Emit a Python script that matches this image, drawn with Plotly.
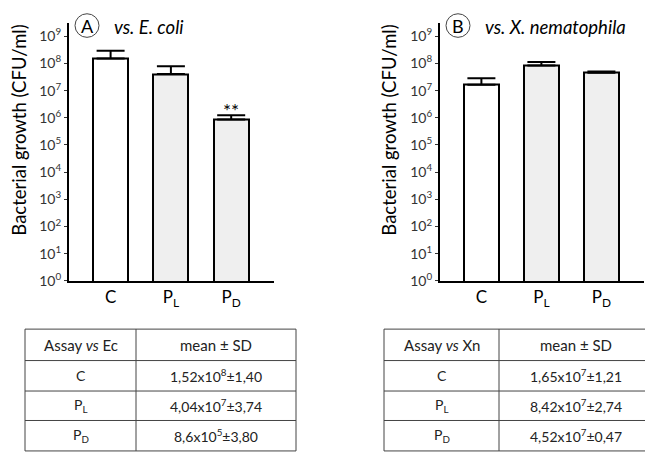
import math
import plotly.graph_objects as go

# ---- data ----
categories = ["C", "P<sub>L</sub>", "P<sub>D</sub>"]
ecoli_mean = [1.52e8, 4.04e7, 8.6e5]
ecoli_sd = [1.40e8, 3.74e7, 3.80e5]
xn_mean = [1.65e7, 8.42e7, 4.52e7]
xn_sd = [1.21e7, 2.74e7, 0.47e7]
bar_fill = ["white", "#efefef", "#efefef"]
y_tickvals = [10 ** k for k in range(10)]
y_ticktext = ["10<sup>%d</sup>" % k for k in range(10)]

W, H = 645, 456
FONT = "Lato"


def px(x):
    return x / W


def py(y):
    return 1 - y / H


def sci_label(mean, sd):
    exp = 0
    m = mean
    while m >= 10:
        m /= 10
        exp += 1
    s = sd / 10 ** exp
    return ("%.3g" % m).replace(".", ",") + "x10<sup>%d</sup>" % exp + "±" + ("%.2f" % s).replace(".", ",")


def note(x, y, text, size, color="black", **kw):
    d = dict(x=px(x), y=py(y), xref="paper", yref="paper", text=text, showarrow=False,
             xanchor="center", yanchor="middle",
             font=dict(family=FONT, size=size, color=color))
    d.update(kw)
    return d


fig = go.Figure()

panels = [
    dict(mean=ecoli_mean, sd=ecoli_sd, xa="x", ya="y"),
    dict(mean=xn_mean, sd=xn_sd, xa="x2", ya="y2"),
]
for p in panels:
    fig.add_trace(go.Bar(
        x=[0, 1, 2], y=p["mean"], width=0.58,
        marker=dict(color=bar_fill, line=dict(color="black", width=2)),
        error_y=dict(type="data", symmetric=False, array=p["sd"],
                     arrayminus=[0, 0, 0], color="black", thickness=2, width=14),
        xaxis=p["xa"], yaxis=p["ya"], showlegend=False,
    ))

ydom = [py(286), py(23)]
xaxis_common = dict(range=[-0.69, 2.71], tickvals=[0, 1, 2], ticktext=categories,
                    showline=True, linecolor="black", linewidth=2, ticks="",
                    showgrid=False, zeroline=False,
                    tickfont=dict(family=FONT, size=17, color="black"))
yaxis_common = dict(type="log", range=[0, 9.5], tickvals=y_tickvals, ticktext=y_ticktext,
                    showline=True, linecolor="black", linewidth=2,
                    ticks="outside", ticklen=3, tickwidth=1, tickcolor="#333",
                    showgrid=False, zeroline=False,
                    tickfont=dict(family=FONT, size=14, color="#333"), domain=ydom)

fig.update_layout(
    width=W, height=H, margin=dict(l=0, r=0, t=0, b=0),
    paper_bgcolor="white", plot_bgcolor="white", bargap=0,
    font=dict(family=FONT, color="black"),
    xaxis=dict(domain=[px(69), px(274)], anchor="y", **xaxis_common),
    yaxis=dict(anchor="x", **yaxis_common),
    xaxis2=dict(domain=[px(440), px(644)], anchor="y2", **xaxis_common),
    yaxis2=dict(anchor="x2", **yaxis_common),
)

shapes = []
annotations = []

# axis titles
for xc in (19, 389):
    annotations.append(note(xc, 133, "Bacterial growth (CFU/ml)", 18.5, textangle=-90))

# panel markers and titles
for cx, letter, label, lx in [(87, "A", "vs. E. coli", 112), (458, "B", "vs. X. nematophila", 483)]:
    shapes.append(dict(type="circle", xref="paper", yref="paper",
                       x0=px(cx - 12), x1=px(cx + 12), y0=py(38), y1=py(14),
                       line=dict(color="#444", width=1)))
    annotations.append(note(cx, 26, letter, 18))
    annotations.append(note(lx, 27, "<i>%s</i>" % label, 18.5, xanchor="left"))

# significance mark over the P_D bar against E. coli
annotations.append(dict(x=2, y=math.log10(ecoli_mean[2] + ecoli_sd[2]), xref="x", yref="y",
                        text="**", showarrow=False, xanchor="center", yanchor="bottom", yshift=-9,
                        font=dict(family=FONT, size=19, color="black")))

# summary tables
row_y = [335, 367, 398, 428, 459]
tables = [
    dict(x0=25, xm=136, x1=296, head="Assay <i>vs</i> Ec", mean=ecoli_mean, sd=ecoli_sd),
    dict(x0=384, xm=499, x1=652, head="Assay <i>vs</i> Xn", mean=xn_mean, sd=xn_sd),
]
line_style = dict(color="#444", width=1)
for t in tables:
    for yy in row_y:
        shapes.append(dict(type="line", xref="paper", yref="paper", x0=px(t["x0"]), x1=px(t["x1"]),
                           y0=py(yy), y1=py(yy), line=line_style))
    for xx in (t["x0"], t["xm"], t["x1"]):
        shapes.append(dict(type="line", xref="paper", yref="paper", x0=px(xx), x1=px(xx),
                           y0=py(row_y[0]), y1=py(row_y[-1]), line=line_style))
    c1 = (t["x0"] + t["xm"]) / 2
    c2 = (t["xm"] + t["x1"]) / 2
    col1 = [t["head"]] + categories
    col2 = ["mean ± SD"] + [sci_label(m, s) for m, s in zip(t["mean"], t["sd"])]
    for i in range(4):
        yc = (row_y[i] + row_y[i + 1]) / 2
        annotations.append(note(c1, yc, col1[i], 15 if i == 0 else 14, "#222"))
        annotations.append(note(c2, yc, col2[i], 15 if i == 0 else 14, "#222"))

fig.update_layout(shapes=shapes, annotations=annotations)
fig.write_html("out.html")
